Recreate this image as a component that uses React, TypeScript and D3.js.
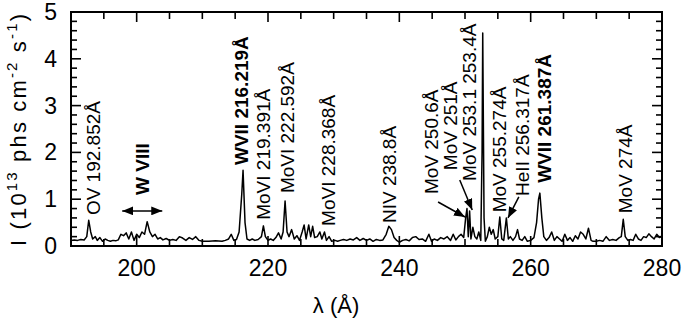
import React, { useEffect, useRef } from "react";
import * as d3 from "d3";

// spectrum, [wavelength (Å), intensity (1e13 phs cm-2 s-1)]
const spectrum: [number, number][] = [
  [190, 0.12], [190.5, 0.13], [191, 0.12], [191.5, 0.14], [192, 0.13], [192.4, 0.2], [192.7, 0.55],
  [193.0, 0.3], [193.3, 0.15], [193.7, 0.2], [194.0, 0.12], [194.4, 0.18], [194.8, 0.1], [195.2, 0.15],
  [195.6, 0.12], [196.0, 0.1], [196.4, 0.12], [196.8, 0.11], [197.2, 0.13], [197.6, 0.25], [198.0, 0.22],
  [198.4, 0.28], [198.8, 0.15], [199.2, 0.3], [199.6, 0.12], [200.0, 0.25], [200.4, 0.18], [200.8, 0.3],
  [201.2, 0.25], [201.6, 0.52], [202.0, 0.3], [202.4, 0.2], [202.8, 0.25], [203.2, 0.15], [203.6, 0.18],
  [204.0, 0.13], [204.5, 0.16], [205.0, 0.12], [205.5, 0.14], [206.0, 0.12], [206.5, 0.2], [207.0, 0.17],
  [207.5, 0.12], [208.0, 0.18], [208.5, 0.14], [209.0, 0.2], [209.5, 0.12], [210.0, 0.1], [211, 0.1],
  [212, 0.11], [213, 0.1], [213.5, 0.12], [214.0, 0.15], [214.4, 0.25], [214.8, 0.12], [215.2, 0.14],
  [215.6, 0.3], [216.0, 1.1], [216.2, 1.62], [216.5, 0.5], [216.8, 0.15], [217.2, 0.12], [217.6, 0.15],
  [218.0, 0.12], [218.5, 0.14], [219.0, 0.2], [219.3, 0.43], [219.6, 0.2], [220.0, 0.12], [220.4, 0.15],
  [220.8, 0.12], [221.2, 0.18], [221.6, 0.28], [222.0, 0.15], [222.3, 0.3], [222.6, 0.96], [222.9, 0.3],
  [223.2, 0.2], [223.6, 0.35], [224.0, 0.15], [224.4, 0.22], [224.8, 0.12], [225.2, 0.3], [225.5, 0.45],
  [225.8, 0.15], [226.2, 0.45], [226.5, 0.2], [226.8, 0.42], [227.1, 0.18], [227.5, 0.2], [227.9, 0.3],
  [228.2, 0.15], [228.6, 0.3], [228.9, 0.12], [229.3, 0.2], [229.7, 0.1], [230.2, 0.12], [230.6, 0.1],
  [231.0, 0.12], [231.5, 0.14], [232, 0.12], [232.5, 0.15], [233, 0.13], [233.5, 0.18], [234, 0.12],
  [234.5, 0.16], [235, 0.12], [235.5, 0.15], [236, 0.1], [236.5, 0.14], [237, 0.12], [237.5, 0.13],
  [238.0, 0.25], [238.4, 0.42], [238.8, 0.35], [239.2, 0.18], [239.6, 0.12], [240.0, 0.08], [240.5, 0.12],
  [241, 0.14], [241.5, 0.11], [242, 0.18], [242.5, 0.2], [243, 0.14], [243.5, 0.15], [244, 0.1],
  [244.5, 0.25], [244.9, 0.1], [245.3, 0.15], [245.8, 0.12], [246.3, 0.18], [246.8, 0.15], [247.3, 0.2],
  [247.8, 0.12], [248.2, 0.25], [248.6, 0.13], [249.0, 0.2], [249.4, 0.25], [249.8, 0.18], [250.1, 0.6],
  [250.3, 0.8], [250.5, 0.2], [250.7, 0.75], [250.9, 0.15], [251.2, 0.4], [251.5, 0.2], [251.8, 0.15],
  [252.1, 0.3], [252.4, 0.12], [252.6, 2.0], [252.7, 4.55], [252.9, 0.6], [253.1, 0.1], [253.4, 0.2],
  [253.7, 0.4], [254.0, 0.25], [254.3, 0.35], [254.6, 0.15], [255.0, 0.2], [255.3, 0.62], [255.6, 0.15],
  [255.9, 0.12], [256.3, 0.6], [256.6, 0.15], [256.9, 0.2], [257.3, 0.12], [257.7, 0.2], [258.0, 0.35],
  [258.3, 0.15], [258.7, 0.12], [259.1, 0.2], [259.5, 0.1], [260.0, 0.12], [260.5, 0.18], [260.9, 0.5],
  [261.2, 1.0], [261.4, 1.13], [261.7, 0.6], [262.0, 0.2], [262.4, 0.12], [262.8, 0.18], [263.2, 0.3],
  [263.6, 0.12], [264.0, 0.2], [264.4, 0.15], [264.8, 0.1], [265.2, 0.25], [265.6, 0.12], [266.0, 0.18],
  [266.4, 0.1], [266.8, 0.22], [267.2, 0.15], [267.6, 0.3], [268.0, 0.25], [268.4, 0.15], [268.8, 0.38],
  [269.2, 0.12], [269.5, 0.1], [270.0, 0.1], [270.5, 0.12], [271.0, 0.1], [271.5, 0.2], [272, 0.12],
  [272.5, 0.14], [273, 0.12], [273.5, 0.18], [273.8, 0.2], [274.1, 0.57], [274.4, 0.2], [274.8, 0.12],
  [275.2, 0.14], [275.6, 0.12], [276.0, 0.25], [276.4, 0.15], [276.8, 0.12], [277.2, 0.2], [277.6, 0.18],
  [278.0, 0.26], [278.4, 0.2], [278.8, 0.15], [279.2, 0.25], [279.6, 0.18], [280.0, 0.2],
];

// line identifications: text, where the text sits (λ, intensity at its start)
const lineLabels = [
  "OV 192.852Å", "W VIII", "WVII 216.219Å", "MoVI 219.391Å", "MoVI 222.592Å", "MoVI 228.368Å",
  "NIV 238.8Å", "MoV 250.6Å", "MoV 251Å", "MoV 253.1 253.4Å", "MoV 255.274Å", "HeII 256.317Å",
  "WVII 261.387Å", "MoV 274Å",
];
const labelLambda = [194.4, 201.85, 216.95, 220.3, 223.95, 230.2, 239.5, 245.85, 248.8, 251.7, 256.25, 259.75, 263.1, 275.45];
const labelStart = [0.66, 1.09, 1.73, 0.56, 1.13, 0.43, 0.49, 1.11, 1.62, 1.39, 0.72, 1.07, 1.35, 0.7];
const boldLabels = ["W VIII", "WVII 216.219Å", "WVII 261.387Å"];

// pointer arrows [λ, I] from -> to
const arrowFrom: [number, number][] = [[245.9, 0.94], [249.2, 1.41], [258.2, 1.05]];
const arrowTo: [number, number][] = [[250.0, 0.62], [251.1, 0.77], [256.55, 0.6]];
// W VIII band
const bandRange = [197.8, 203.9];
const bandLevel = 0.75;

const xTicks = [200, 220, 240, 260, 280];
const yTicks = [0, 1, 2, 3, 4, 5];

const FONT = "'Liberation Sans', Arial, Helvetica, sans-serif";

export default function App() {
  const ref = useRef<SVGSVGElement>(null);

  useEffect(() => {
    const svg = d3.select(ref.current);
    svg.selectAll("*").remove();

    const x = d3.scaleLinear().domain([190, 280]).range([71, 662]);
    const y = d3.scaleLinear().domain([0, 5]).range([246, 12]);

    const defs = svg.append("defs");
    defs.append("marker")
      .attr("id", "head")
      .attr("viewBox", "0 0 10 8")
      .attr("refX", 10).attr("refY", 4)
      .attr("markerWidth", 11).attr("markerHeight", 9)
      .attr("markerUnits", "userSpaceOnUse")
      .attr("orient", "auto-start-reverse")
      .append("path").attr("d", "M0,0L10,4L0,8Z").attr("fill", "#000");

    // spectrum
    const line = d3.line<[number, number]>().x(d => x(d[0])).y(d => y(d[1]));
    svg.append("path")
      .attr("d", line(spectrum))
      .attr("fill", "none").attr("stroke", "#000").attr("stroke-width", 1.5)
      .attr("stroke-linejoin", "round");

    // frame + ticks (inward, mirrored)
    const g = svg.append("g").attr("stroke", "#000").attr("stroke-width", 1.6);
    g.append("rect")
      .attr("x", x(190)).attr("y", y(5))
      .attr("width", x(280) - x(190)).attr("height", y(0) - y(5))
      .attr("fill", "none").attr("stroke-width", 2);

    const xMinor = d3.range(190, 280.1, 5);
    xMinor.forEach(v => {
      const len = v % 20 === 0 ? 10 : 7;
      g.append("line").attr("x1", x(v)).attr("x2", x(v)).attr("y1", y(0)).attr("y2", y(0) - len);
      g.append("line").attr("x1", x(v)).attr("x2", x(v)).attr("y1", y(5)).attr("y2", y(5) + len);
    });
    const yMinor = d3.range(0, 5.01, 0.2);
    yMinor.forEach(v => {
      const len = Math.abs(v - Math.round(v)) < 1e-6 ? 10 : 6;
      g.append("line").attr("x1", x(190)).attr("x2", x(190) + len).attr("y1", y(v)).attr("y2", y(v));
      g.append("line").attr("x1", x(280)).attr("x2", x(280) - len).attr("y1", y(v)).attr("y2", y(v));
    });

    // tick labels
    svg.append("g").selectAll("text").data(xTicks).join("text")
      .attr("x", d => x(d)).attr("y", 276)
      .attr("text-anchor", "middle")
      .attr("font-family", FONT).attr("font-size", 23)
      .text(d => d);
    svg.append("g").selectAll("text").data(yTicks).join("text")
      .attr("x", 57).attr("y", d => y(d) + 8)
      .attr("text-anchor", "end")
      .attr("font-family", FONT).attr("font-size", 23)
      .text(d => d);

    // axis titles
    svg.append("text")
      .attr("x", 336).attr("y", 313)
      .attr("text-anchor", "middle")
      .attr("font-family", FONT).attr("font-size", 22)
      .text("λ (Å)");

    const yt = svg.append("text")
      .attr("transform", "translate(26,130) rotate(-90)")
      .attr("text-anchor", "middle")
      .attr("font-family", FONT).attr("font-size", 22)
      .attr("textLength", 232).attr("lengthAdjust", "spacing");
    yt.append("tspan").text("I (10");
    yt.append("tspan").attr("font-size", 15).attr("dy", -9).text("13");
    yt.append("tspan").attr("dy", 9).text(" phs cm");
    yt.append("tspan").attr("font-size", 15).attr("dy", -9).text("-2");
    yt.append("tspan").attr("dy", 9).text(" s");
    yt.append("tspan").attr("font-size", 15).attr("dy", -9).text("-1");
    yt.append("tspan").attr("dy", 9).text(")");

    // line labels
    svg.append("g").selectAll("text").data(lineLabels).join("text")
      .attr("transform", (d, i) => `translate(${x(labelLambda[i])},${y(labelStart[i])}) rotate(-90)`)
      .attr("font-family", FONT).attr("font-size", 19)
      .attr("font-weight", d => (boldLabels.includes(d) ? "bold" : "normal"))
      .text(d => d);

    // arrows
    arrowFrom.forEach((f, i) => {
      svg.append("line")
        .attr("x1", x(f[0])).attr("y1", y(f[1]))
        .attr("x2", x(arrowTo[i][0])).attr("y2", y(arrowTo[i][1]))
        .attr("stroke", "#000").attr("stroke-width", 1.5)
        .attr("marker-end", "url(#head)");
    });
    svg.append("line")
      .attr("x1", x(bandRange[0])).attr("x2", x(bandRange[1]))
      .attr("y1", y(bandLevel)).attr("y2", y(bandLevel))
      .attr("stroke", "#000").attr("stroke-width", 1.5)
      .attr("marker-start", "url(#head)").attr("marker-end", "url(#head)");
  }, []);

  return (
    <svg
      ref={ref}
      width={685}
      height={320}
      style={{ position: "absolute", left: 0, top: 0, background: "#fff" }}
    />
  );
}
